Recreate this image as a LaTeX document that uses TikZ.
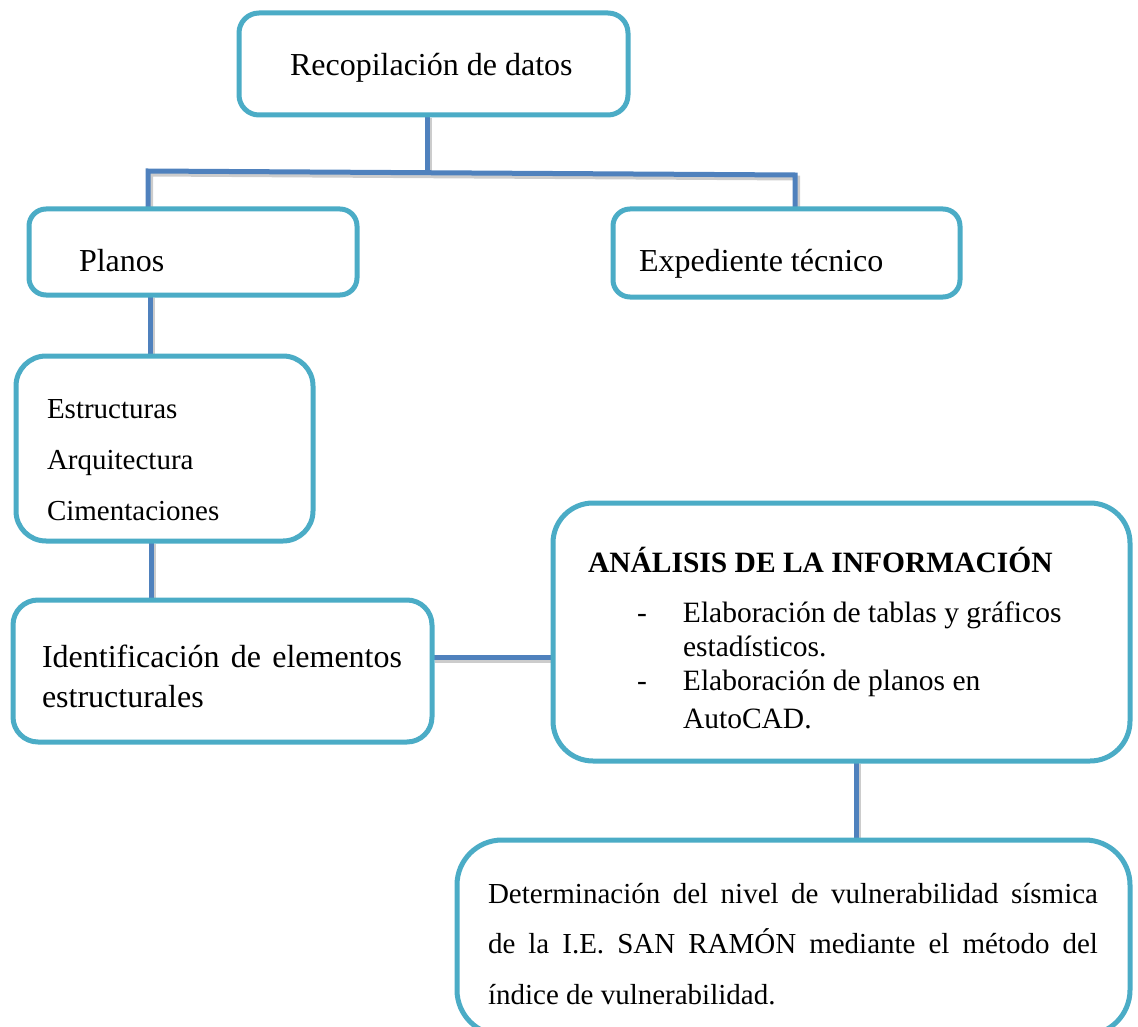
\documentclass[tikz,border=0pt]{standalone}
\usepackage{fontspec}
\setmainfont{Liberation Serif}
\usetikzlibrary{backgrounds}
\definecolor{boxc}{HTML}{4BACC6}
\definecolor{linec}{HTML}{4F81BD}
\begin{document}
\begin{tikzpicture}[x=1pt,y=-1pt,
  bx/.style={draw=boxc, line width=5pt, fill=white, rectangle, anchor=north west, inner sep=0pt, outer sep=0pt},
  conn/.style={draw=linec, line width=5pt,
    preaction={draw=black!20, line width=5pt, transform canvas={xshift=2.5pt,yshift=-3pt}}},
  txt/.style={anchor=base west, inner sep=0pt, outer sep=0pt, font=\fontsize{32}{38}\selectfont}]
\useasboundingbox (0,0) rectangle (1138,1027);

% boxes
\node[bx, rounded corners=20pt, minimum width=389pt, minimum height=102pt] (b1) at (239,13) {};
\node[bx, rounded corners=17pt, minimum width=328pt, minimum height=86pt] (b2) at (29,209) {};
\node[bx, rounded corners=17pt, minimum width=347pt, minimum height=88pt] (b3) at (613,209) {};
\node[bx, rounded corners=30pt, minimum width=297pt, minimum height=185pt] (b4) at (16,356) {};
\node[bx, rounded corners=25pt, minimum width=419pt, minimum height=142pt] (b5) at (13,600) {};
\node[bx, rounded corners=40pt, minimum width=577pt, minimum height=258pt] (b6) at (553,503) {};
\node[bx, rounded corners=45pt, minimum width=673pt, minimum height=195pt] (b7) at (457,840) {};

% texts
\node[txt] (t1) at (290,76) {Recopilación de datos};
\node[txt] (t2) at (79,272) {Planos};
\node[txt] (t3) at (639,272) {Expediente técnico};
\node[txt, font=\fontsize{29}{51}\selectfont] (t4) at (47,418)
  {\vtop{\hbox{Estructuras}\hbox{Arquitectura}\hbox{Cimentaciones}}};
\node[txt, font=\fontsize{32}{40}\selectfont] (t5) at (42,667)
  {\vtop{\hbox{\makebox[360pt][s]{Identificación de elementos}}\hbox{estructurales}}};
\node[txt, font=\fontsize{29.5}{34}\selectfont] (t6) at (588,572)
  {\vtop{\hbox{\bfseries ANÁLISIS DE LA INFORMACIÓN}\vskip16pt
   \hbox{\hspace*{49pt}\makebox[46pt][l]{-}Elaboración de tablas y gráficos}
   \hbox{\hspace*{95pt}estadísticos.}
   \hbox{\hspace*{49pt}\makebox[46pt][l]{-}Elaboración de planos en}\vskip4pt
   \hbox{\hspace*{95pt}AutoCAD.}}};
\node[txt, font=\fontsize{29}{50.5}\selectfont] (t7) at (488,903)
  {\vtop{\hbox{\makebox[610pt][s]{Determinación del nivel de vulnerabilidad sísmica}}
   \hbox{\makebox[610pt][s]{de la I.E. SAN RAMÓN mediante el método del}}
   \hbox{índice de vulnerabilidad.}}};

% connectors
\coordinate (j) at (427,172);
\coordinate (jl) at (148,171);
\coordinate (jr) at (795,175);
\coordinate (c24) at (150,0);
\coordinate (c45) at (151,0);
\coordinate (c56) at (0,657);
\coordinate (c67) at (856,0);
\begin{pgfonlayer}{background}
\draw[conn] (b1.south -| j) -- (j);
\draw[conn] (b2.north -| jl) -- (jl) -- (jr) -- (b3.north -| jr);
\draw[conn] (b2.south -| c24) -- (b4.north -| c24);
\draw[conn] (b4.south -| c45) -- (b5.north -| c45);
\draw[conn] (b5.east |- c56) -- (b6.west |- c56);
\draw[conn] (b6.south -| c67) -- (b7.north -| c67);
\end{pgfonlayer}
\end{tikzpicture}
\end{document}
